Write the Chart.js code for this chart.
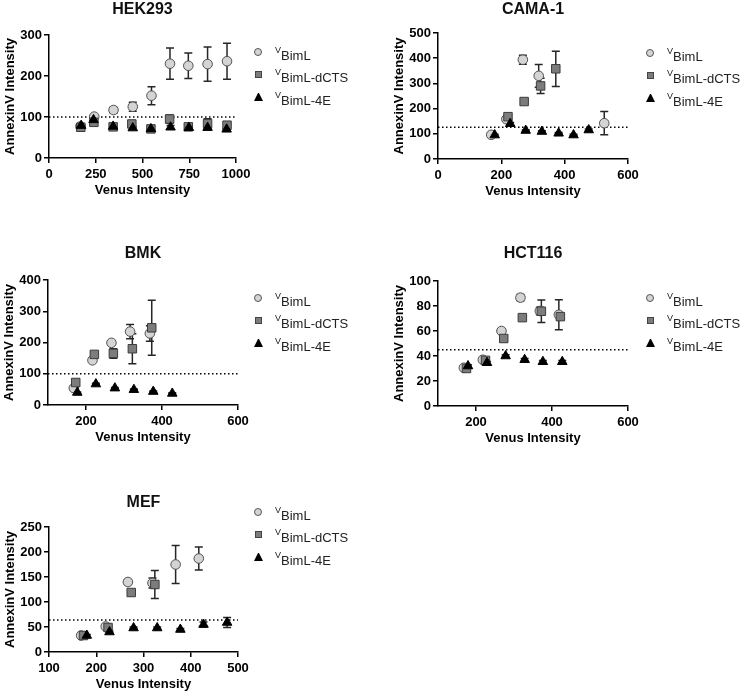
<!DOCTYPE html>
<html>
<head>
<meta charset="utf-8">
<script src="https://cdn.jsdelivr.net/npm/chart.js@4.4.1/dist/chart.umd.min.js"></script>
<style>
  body { margin: 0; background: #fff; }
  #page { position: relative; width: 744px; height: 695px; overflow: hidden;
          font-family: 'Liberation Sans', Arial, Helvetica, sans-serif; }
  .panel { position: absolute; }
  .title { position: absolute; width: 200px; text-align: center; color: #111;
           font-weight: bold; font-size: 16px; line-height: 20px; }
  .leg { position: absolute; font-size: 13px; line-height: 13px; color: #222; white-space: nowrap; z-index: 2; }
  .leg sup { font-size: 9px; vertical-align: baseline; position: relative; top: -7px; }
  .mk { position: absolute; box-sizing: border-box; z-index: 2; }
  .mk.circle { width: 8px; height: 8px; border-radius: 50%; background: #d4d4d4; border: 1px solid #555; }
  .mk.rect { width: 7px; height: 7px; background: #7c7c7c; border: 1px solid #444; }
  .mk.triangle { width: 9px; height: 8px; border-left: 4.5px solid transparent;
                 border-right: 4.5px solid transparent; border-bottom: 8px solid #000; }
</style>
</head>
<body>
<div id="page"></div>
<script>
// ── Data ────────────────────────────────────────────────────────────────────

const SERIES_NAMES = ['BimL', 'BimL-dCTS', 'BimL-4E'];

// HEK293
const HEK_X_TICKS = [0, 250, 500, 750, 1000];
const HEK_Y_TICKS = [0, 100, 200, 300];
const HEK_REF     = 100;
const HEK_BIML_X  = [168, 242, 345, 448, 548, 647, 745, 848, 952];
const HEK_BIML_Y  = [77, 101, 117, 125, 152, 230, 225, 229, 236];
const HEK_BIML_E  = [6, 4, 7, 11, 22, 38, 31, 42, 44];
const HEK_DCTS_X  = [170, 240, 343, 443, 545, 645, 745, 848, 952];
const HEK_DCTS_Y  = [75, 87, 76, 83, 71, 95, 76, 84, 80];
const HEK_DCTS_E  = [3, 4, 3, 4, 3, 10, 3, 12, 4];
const HEK_4E_X    = [172, 238, 343, 448, 545, 650, 748, 848, 950];
const HEK_4E_Y    = [79, 93, 77, 73, 71, 75, 74, 74, 70];
const HEK_4E_E    = [3, 4, 2, 3, 2, 4, 2, 4, 2];

// CAMA-1
const CAMA_X_TICKS = [0, 200, 400, 600];
const CAMA_Y_TICKS = [0, 100, 200, 300, 400, 500];
const CAMA_REF     = 126;
const CAMA_BIML_X  = [168, 216, 268, 318, 525];
const CAMA_BIML_Y  = [96, 158, 394, 330, 142];
const CAMA_BIML_E  = [3, 5, 18, 45, 46];
const CAMA_DCTS_X  = [221, 272, 324, 372];
const CAMA_DCTS_Y  = [168, 228, 290, 358];
const CAMA_DCTS_E  = [5, 8, 30, 70];
const CAMA_4E_X    = [179, 228, 277, 328, 381, 428, 476];
const CAMA_4E_Y    = [95, 140, 113, 109, 102, 95, 115];
const CAMA_4E_E    = [3, 5, 3, 3, 3, 3, 4];

// BMK
const BMK_X_TICKS = [200, 400, 600];
const BMK_Y_TICKS = [0, 100, 200, 300, 400];
const BMK_REF     = 100;
const BMK_BIML_X  = [168, 217, 267, 316, 368];
const BMK_BIML_Y  = [54, 143, 199, 235, 229];
const BMK_BIML_E  = [3, 4, 5, 23, 25];
const BMK_DCTS_X  = [173, 222, 272, 322, 373];
const BMK_DCTS_Y  = [72, 162, 165, 180, 247];
const BMK_DCTS_E  = [3, 5, 15, 48, 88];
const BMK_4E_X    = [177, 226, 276, 326, 377, 427];
const BMK_4E_Y    = [40, 67, 54, 49, 43, 37];
const BMK_4E_E    = [2, 3, 2, 2, 2, 2];

// HCT116
const HCT_X_TICKS = [200, 400, 600];
const HCT_Y_TICKS = [0, 20, 40, 60, 80, 100];
const HCT_REF     = 45;
const HCT_BIML_X  = [168, 218, 267, 317, 368, 418];
const HCT_BIML_Y  = [30.6, 37, 60, 86.7, 76, 73];
const HCT_BIML_E  = [1, 1, 1, 2.5, 3, 12];
const HCT_DCTS_X  = [175, 225, 273, 322, 372, 422];
const HCT_DCTS_Y  = [30, 36.5, 54, 70.7, 75.8, 71.5];
const HCT_DCTS_E  = [1, 1, 1, 1, 9, 2];
const HCT_4E_X    = [179, 229, 278, 328, 376, 427];
const HCT_4E_Y    = [32, 34.6, 40, 37, 35.4, 35.4];
const HCT_4E_E    = [1, 1, 1, 1, 1, 1];

// MEF
const MEF_X_TICKS = [100, 200, 300, 400, 500];
const MEF_Y_TICKS = [0, 50, 100, 150, 200, 250];
const MEF_REF     = 64;
const MEF_BIML_X  = [168, 220, 267, 319, 368, 417];
const MEF_BIML_Y  = [33, 51, 140, 138, 175, 187];
const MEF_BIML_E  = [2, 3, 5, 10, 38, 23];
const MEF_DCTS_X  = [173, 225, 274, 324];
const MEF_DCTS_Y  = [33, 49, 119, 135];
const MEF_DCTS_E  = [2, 3, 5, 28];
const MEF_4E_X    = [180, 228, 279, 329, 378, 427, 477];
const MEF_4E_Y    = [33, 40, 48, 48, 45, 55, 59];
const MEF_4E_E    = [2, 2, 2, 2, 2, 5, 10];

// ── Styling / layout ───────────────────────────────────────────────────────

const FONT      = "'Liberation Sans', Arial, Helvetica, sans-serif";
const ERR_COLOR = '#262626';
const STYLES = [
  { pointStyle: 'circle',   radius: 4.8, bg: '#d4d4d4', border: '#505050' },
  { pointStyle: 'rect',     radius: 6,   bg: '#7c7c7c', border: '#3c3c3c' },
  { pointStyle: 'triangle', radius: 5.5, bg: '#000000', border: '#000000' },
];

const PANELS = [
  { title: 'HEK293', area: { l: 49, r: 236, t: 35, b: 158 }, titleY: 9, legend: { x: 258, y: 52 },
    xRange: [0, 1000], xTicks: HEK_X_TICKS, yTicks: HEK_Y_TICKS, ref: HEK_REF,
    series: [[HEK_BIML_X, HEK_BIML_Y, HEK_BIML_E], [HEK_DCTS_X, HEK_DCTS_Y, HEK_DCTS_E], [HEK_4E_X, HEK_4E_Y, HEK_4E_E]] },
  { title: 'CAMA-1', area: { l: 438, r: 628, t: 33, b: 159 }, titleY: 9, legend: { x: 650, y: 53 },
    xRange: [0, 600], xTicks: CAMA_X_TICKS, yTicks: CAMA_Y_TICKS, ref: CAMA_REF,
    series: [[CAMA_BIML_X, CAMA_BIML_Y, CAMA_BIML_E], [CAMA_DCTS_X, CAMA_DCTS_Y, CAMA_DCTS_E], [CAMA_4E_X, CAMA_4E_Y, CAMA_4E_E]] },
  { title: 'BMK', area: { l: 48, r: 238, t: 280, b: 405 }, titleY: 253, legend: { x: 258, y: 298 },
    xRange: [100, 600], xTicks: BMK_X_TICKS, yTicks: BMK_Y_TICKS, ref: BMK_REF,
    series: [[BMK_BIML_X, BMK_BIML_Y, BMK_BIML_E], [BMK_DCTS_X, BMK_DCTS_Y, BMK_DCTS_E], [BMK_4E_X, BMK_4E_Y, BMK_4E_E]] },
  { title: 'HCT116', area: { l: 438, r: 628, t: 281, b: 406 }, titleY: 253, legend: { x: 650, y: 298 },
    xRange: [100, 600], xTicks: HCT_X_TICKS, yTicks: HCT_Y_TICKS, ref: HCT_REF,
    series: [[HCT_BIML_X, HCT_BIML_Y, HCT_BIML_E], [HCT_DCTS_X, HCT_DCTS_Y, HCT_DCTS_E], [HCT_4E_X, HCT_4E_Y, HCT_4E_E]] },
  { title: 'MEF', area: { l: 49, r: 238, t: 527, b: 652 }, titleY: 502, legend: { x: 258, y: 512 },
    xRange: [100, 500], xTicks: MEF_X_TICKS, yTicks: MEF_Y_TICKS, ref: MEF_REF,
    series: [[MEF_BIML_X, MEF_BIML_Y, MEF_BIML_E], [MEF_DCTS_X, MEF_DCTS_Y, MEF_DCTS_E], [MEF_4E_X, MEF_4E_Y, MEF_4E_E]] },
];

// Y-axis box width, x-axis box height, space above / right of plot area
const Y_BOX = 49, X_BOX = 42, PAD_TOP = 33, PAD_RIGHT = 26;

// Error bars drawn under the markers, through the chart's own scales
const errorBars = {
  id: 'errorBars',
  beforeDatasetsDraw(chart) {
    const { ctx, scales: { x, y } } = chart;
    ctx.save();
    ctx.strokeStyle = ERR_COLOR;
    ctx.lineWidth = 1.5;
    chart.data.datasets.forEach((ds) => {
      if (!ds.errors) return;
      ds.data.forEach((p, j) => {
        const e = ds.errors[j];
        if (!e) return;
        const px  = x.getPixelForValue(p.x);
        const top = y.getPixelForValue(p.y + e);
        const bot = y.getPixelForValue(p.y - e);
        ctx.beginPath();
        ctx.moveTo(px, top); ctx.lineTo(px, bot);
        ctx.moveTo(px - 4, top); ctx.lineTo(px + 4, top);
        ctx.moveTo(px - 4, bot); ctx.lineTo(px + 4, bot);
        ctx.stroke();
      });
    });
    ctx.restore();
  },
};

const page = document.getElementById('page');

function axisFont() {
  return { family: FONT, size: 13, weight: 'bold' };
}

PANELS.forEach((p) => {
  const { l, r, t, b } = p.area;

  // canvas box so that the plot area lands on l..r, t..b
  const box = document.createElement('div');
  box.className = 'panel';
  box.style.left   = (l - Y_BOX) + 'px';
  box.style.top    = (t - PAD_TOP) + 'px';
  box.style.width  = (r - l + Y_BOX + PAD_RIGHT) + 'px';
  box.style.height = (b - t + PAD_TOP + X_BOX) + 'px';
  const canvas = document.createElement('canvas');
  box.appendChild(canvas);
  page.appendChild(box);

  // title
  const ttl = document.createElement('div');
  ttl.className = 'title';
  ttl.textContent = p.title;
  ttl.style.left = ((l + r) / 2 - 100) + 'px';
  ttl.style.top  = (p.titleY - 10) + 'px';
  page.appendChild(ttl);

  // legend
  SERIES_NAMES.forEach((name, i) => {
    const rowY = p.legend.y + i * 22.5;
    const mk = document.createElement('div');
    mk.className = 'mk ' + STYLES[i].pointStyle;
    const w = i === 0 ? 8 : i === 1 ? 7 : 9;
    const h = i === 0 ? 8 : i === 1 ? 7 : 8;
    mk.style.left = (p.legend.x - w / 2) + 'px';
    mk.style.top  = (rowY - h / 2) + 'px';
    page.appendChild(mk);
    const lt = document.createElement('div');
    lt.className = 'leg';
    lt.innerHTML = '<sup>V</sup>' + name;
    lt.style.left = (p.legend.x + 17) + 'px';
    lt.style.top  = (rowY - 3.5) + 'px';
    page.appendChild(lt);
  });

  // datasets
  const datasets = p.series.map(([xs, ys, es], i) => ({
    label:            SERIES_NAMES[i],
    data:             xs.map((x, k) => ({ x, y: ys[k] })),
    errors:           es,
    pointStyle:       STYLES[i].pointStyle,
    pointRadius:      STYLES[i].radius,
    pointBackgroundColor: STYLES[i].bg,
    pointBorderColor: STYLES[i].border,
    pointBorderWidth: 1,
    showLine:         false,
    order:            3 - i,
  }));

  datasets.push({
    type:        'line',
    label:       'ref',
    data:        [{ x: p.xRange[0], y: p.ref }, { x: p.xRange[1], y: p.ref }],
    borderColor: '#000',
    borderWidth: 1.3,
    borderDash:  [1.5, 2.5],
    pointRadius: 0,
    fill:        false,
    order:       10,
  });

  const yMax = p.yTicks[p.yTicks.length - 1];

  new Chart(canvas.getContext('2d'), {
    type: 'scatter',
    data: { datasets },
    options: {
      responsive:          true,
      maintainAspectRatio: false,
      animation:           false,
      layout: { padding: { left: 0, top: PAD_TOP, right: PAD_RIGHT, bottom: 0 } },
      plugins: { legend: { display: false }, tooltip: { enabled: false } },
      scales: {
        x: {
          type: 'linear',
          min:  p.xRange[0],
          max:  p.xRange[1],
          afterBuildTicks: (s) => { s.ticks = p.xTicks.map((v) => ({ value: v })); },
          afterFit:        (s) => { s.height = X_BOX; },
          border: { display: true, color: '#000', width: 1.5 },
          grid:   { display: true, drawOnChartArea: false, drawTicks: true, tickLength: 5, color: '#000', lineWidth: 1.5 },
          ticks:  { color: '#000', font: axisFont(), padding: 4, maxRotation: 0, autoSkip: false,
                    callback: (v) => String(v) },
          title:  { display: true, text: 'Venus Intensity', color: '#000', font: axisFont(), padding: { top: 0, bottom: 2 } },
        },
        y: {
          type: 'linear',
          min:  0,
          max:  yMax,
          afterBuildTicks: (s) => { s.ticks = p.yTicks.map((v) => ({ value: v })); },
          afterFit:        (s) => { s.width = Y_BOX; },
          border: { display: true, color: '#000', width: 1.5 },
          grid:   { display: true, drawOnChartArea: false, drawTicks: true, tickLength: 5, color: '#000', lineWidth: 1.5 },
          ticks:  { color: '#000', font: axisFont(), padding: 2, autoSkip: false,
                    callback: (v) => String(v) },
          title:  { display: true, text: 'AnnexinV Intensity', color: '#000', font: axisFont(), padding: { top: 3, bottom: 0 } },
        },
      },
    },
    plugins: [errorBars],
  });
});
</script>
</body>
</html>
